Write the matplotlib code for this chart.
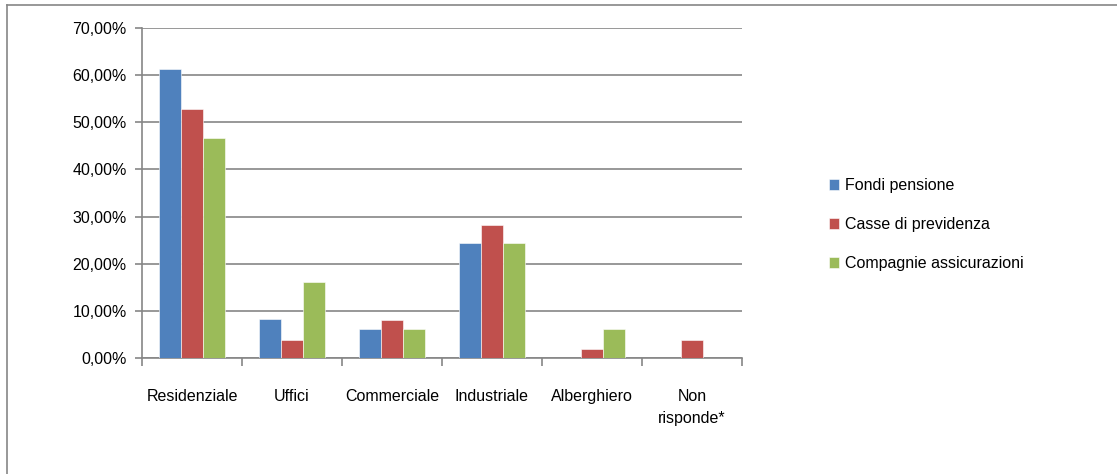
import numpy as np
import matplotlib.pyplot as plt
from matplotlib.lines import Line2D
from matplotlib.ticker import FuncFormatter

categorie = ['Residenziale', 'Uffici', 'Commerciale', 'Industriale', 'Alberghiero', 'Non\nrisponde*']
fondi_pensione = [61.2, 8.2, 6.1, 24.5, 0.0, 0.0]
casse_previdenza = [52.9, 3.9, 8.0, 28.2, 1.9, 3.9]
compagnie_assicurazioni = [46.7, 16.2, 6.1, 24.5, 6.1, 0.0]

serie = [('Fondi pensione', fondi_pensione, '#4F81BD'),
         ('Casse di previdenza', casse_previdenza, '#C0504D'),
         ('Compagnie assicurazioni', compagnie_assicurazioni, '#9BBB59')]

plt.rcParams['font.family'] = ['Liberation Sans', 'DejaVu Sans']

fig = plt.figure(figsize=(11.17, 4.74), dpi=100)
W, H = 1117, 474
ax = fig.add_axes([142 / W, 1 - 358 / H, 600 / W, 330 / H])

x = np.arange(len(categorie))
w = 0.22
for i, (nome, vals, col) in enumerate(serie):
    ax.bar(x + (i - 1) * w, vals, width=w, color=col, label=nome, zorder=3,
           edgecolor='white', linewidth=0.4)

ax.set_xlim(-0.5, len(categorie) - 0.5)
ax.set_ylim(0, 70)
ax.set_yticks(np.arange(0, 71, 10))
ax.yaxis.set_major_formatter(FuncFormatter(lambda v, p: f'{v:.2f}%'.replace('.', ',')))
ax.grid(axis='y', color='#868686', linewidth=1.2, zorder=0)

ax.set_xticks(x)
ax.set_xticklabels(categorie, fontsize=11.5, linespacing=1.6, va='top')
ax.set_xticks(np.arange(-0.5, len(categorie), 1), minor=True)
ax.tick_params(axis='x', which='major', length=0, pad=22)
ax.tick_params(axis='x', which='minor', length=6, color='#868686', width=1.2)
ax.tick_params(axis='y', length=5, color='#868686', width=1.2, labelsize=11.5, pad=6)

for s in ['top', 'right']:
    ax.spines[s].set_visible(False)
for s in ['left', 'bottom']:
    ax.spines[s].set_color('#868686')
    ax.spines[s].set_linewidth(1.2)

fig.legend(loc='upper left', bbox_to_anchor=(815 / W, 1 - 164 / H), frameon=False,
           fontsize=11.5, handlelength=0.6, handleheight=0.7, handletextpad=0.4,
           labelspacing=1.5)

# bordo del grafico
fig.add_artist(Line2D([7 / W, 7 / W], [0, 1 - 5 / H], color='#868686', linewidth=1.2))
fig.add_artist(Line2D([7 / W, 1], [1 - 5 / H, 1 - 5 / H], color='#868686', linewidth=1.2))

fig.savefig('out.png', dpi=100)
